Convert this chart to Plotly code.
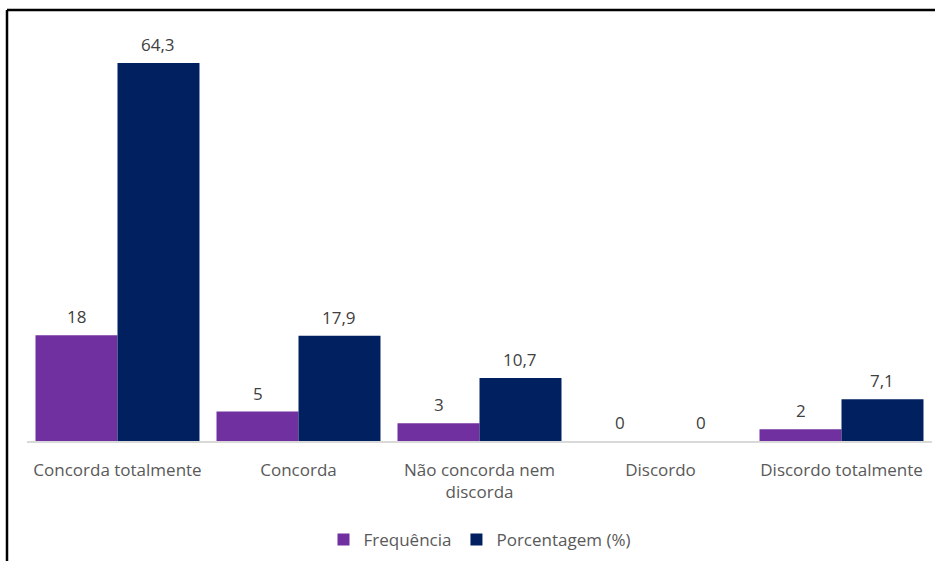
import plotly.graph_objects as go

# Response categories and their axis labels
categories = ["Concorda totalmente", "Concorda", "Não concorda nem discorda", "Discordo", "Discordo totalmente"]
tick_labels = ["Concorda totalmente", "Concorda", "Não concorda nem<br>discorda", "Discordo", "Discordo totalmente"]

# Series values
frequencia = [18, 5, 3, 0, 2]
porcentagem = [64.3, 17.9, 10.7, 0, 7.1]

W, H = 935, 561
ML, MR, MT, MB = 27, 3, 40, 120
plot_w = W - ML - MR
plot_h = H - MT - MB

FONT = "Open Sans"
FS = 17
TEXT_GRAY = "#595959"
LABEL_GRAY = "#404040"
BARGAP = 0.094

fig = go.Figure()
fig.add_trace(go.Bar(
    x=categories, y=frequencia, name="Frequência",
    marker=dict(color="#7030A0", line=dict(width=0)),
))
fig.add_trace(go.Bar(
    x=categories, y=porcentagem, name="Porcentagem (%)",
    marker=dict(color="#002060", line=dict(width=0)),
))

# Value labels above each bar (comma as decimal separator)
def fmt(v):
    return f"{v:g}".replace(".", ",")

slot_px = plot_w / len(categories)
bar_px = slot_px * (1 - BARGAP) / 2
for offset, series in ((-bar_px / 2, frequencia), (bar_px / 2, porcentagem)):
    for cat, val in zip(categories, series):
        fig.add_annotation(
            x=cat, y=val, xref="x", yref="y", text=fmt(val),
            showarrow=False, xshift=offset, yanchor="bottom", yshift=5,
            font=dict(family=FONT, size=FS, color=LABEL_GRAY),
        )

# Outer frame (left and top edges)
def px_x(px):
    return (px - ML) / plot_w

def px_y(py):
    return (H - MB - py) / plot_h

frame = dict(color="black", width=2.5)
fig.add_shape(type="line", xref="paper", yref="paper",
              x0=px_x(7), x1=px_x(940), y0=px_y(10), y1=px_y(10), line=frame)
fig.add_shape(type="line", xref="paper", yref="paper",
              x0=px_x(7), x1=px_x(7), y0=px_y(10), y1=px_y(570), line=frame)

fig.update_layout(
    width=W, height=H,
    margin=dict(l=ML, r=MR, t=MT, b=MB),
    paper_bgcolor="white", plot_bgcolor="white",
    barmode="group", bargap=BARGAP, bargroupgap=0,
    font=dict(family=FONT, size=FS, color=TEXT_GRAY),
    showlegend=True,
    legend=dict(orientation="h", x=0.5, xanchor="center",
                y=px_y(540), yanchor="middle",
                font=dict(family=FONT, size=FS, color=TEXT_GRAY),
                itemwidth=30, tracegroupgap=0),
    xaxis=dict(tickmode="array", tickvals=categories, ticktext=tick_labels,
               showline=True, linecolor="#D9D9D9", linewidth=1.5,
               ticks="", showgrid=False, ticklabelstandoff=13,
               tickfont=dict(family=FONT, size=FS, color=TEXT_GRAY)),
    yaxis=dict(range=[0, 64.3 * plot_h / 378], visible=False, showgrid=False),
)

fig.write_html("out.html")
